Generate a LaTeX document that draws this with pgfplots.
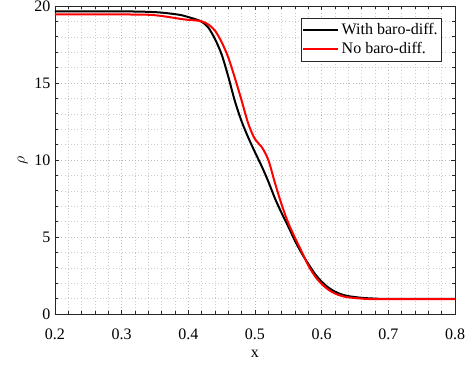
\documentclass[border=0pt]{standalone}
\usepackage{fontspec}
\setmainfont{Liberation Serif}
\usepackage{pgfplots}
\pgfplotsset{compat=1.18}
\definecolor{axgray}{RGB}{38,38,38}
\begin{document}
\begin{tikzpicture}
\useasboundingbox (-41.25pt,-39.75pt) rectangle (312.75pt,235.5pt);
\begin{axis}[
  at={(0pt,0pt)}, anchor=south west,
  scale only axis, width=300pt, height=231pt,
  font=\fontsize{12}{14}\selectfont,
  /pgf/number format/assume math mode=true,
  xmin=0.2, xmax=0.8, ymin=0, ymax=20,
  xtick={0.2,0.3,...,0.8},
  xticklabels={0.2,0.3,0.4,0.5,0.6,0.7,0.8},
  ytick={0,5,10,15,20},
  minor x tick num=4, minor y tick num=4,
  tick align=inside, tick pos=both,
  major tick length=3pt, minor tick length=2pt,
  every tick/.style={axgray, line width=0.5pt},
  axis line style={axgray, line width=0.6pt},
  grid=both,
  major grid style={dotted, gray!55, line width=0.4pt},
  minor grid style={dotted, gray!40, line width=0.4pt},
  xlabel={x}, ylabel={$\rho$},
  xticklabel style={yshift=-7.3pt},
  xlabel style={yshift=-1.2pt},
  ylabel style={yshift=-2pt},
  legend style={at={(1,1)}, anchor=north east, xshift=-9.75pt, yshift=-9pt,
    draw=axgray, line width=0.5pt, fill=white, font=\fontsize{12}{14}\selectfont,
    inner xsep=1pt, inner ysep=2pt, row sep=0pt},
  legend cell align=left,
  legend image code/.code={\draw[#1] (0pt,0pt) -- (26pt,0pt);},
]
\addplot[black, line width=1.5pt, smooth] coordinates {
(0.2,19.65) (0.3,19.65) (0.34,19.62) (0.36,19.57) (0.38,19.47) (0.39,19.4)
(0.40,19.28) (0.41,19.15) (0.42,18.98) (0.43,18.6) (0.44,17.85) (0.45,16.85)
(0.46,15.4) (0.47,13.8) (0.48,12.5) (0.49,11.45) (0.50,10.5) (0.51,9.6)
(0.52,8.6) (0.53,7.5) (0.54,6.55) (0.55,5.67) (0.56,4.75) (0.57,3.95)
(0.58,3.25) (0.59,2.6) (0.60,2.1) (0.61,1.72) (0.62,1.45) (0.63,1.27)
(0.64,1.16) (0.66,1.05) (0.68,1.0) (0.70,0.98) (0.8,0.98)
};
\addlegendentry{With baro-diff.}
\addplot[red, line width=1.5pt, smooth] coordinates {
(0.2,19.45) (0.3,19.45) (0.34,19.43) (0.36,19.35) (0.38,19.22) (0.39,19.15)
(0.40,19.1) (0.41,19.07) (0.42,19.0) (0.43,18.8) (0.44,18.4) (0.45,17.65)
(0.46,16.65) (0.47,15.3) (0.48,13.85) (0.49,12.35) (0.50,11.35) (0.51,10.85)
(0.52,10.0) (0.53,8.5) (0.54,7.1) (0.55,5.9) (0.56,4.95) (0.57,4.05)
(0.58,3.15) (0.59,2.45) (0.60,1.95) (0.61,1.58) (0.62,1.33) (0.63,1.17)
(0.64,1.08) (0.66,1.0) (0.68,0.97) (0.8,0.97)
};
\addlegendentry{No baro-diff.}
\end{axis}
\end{tikzpicture}
\end{document}
